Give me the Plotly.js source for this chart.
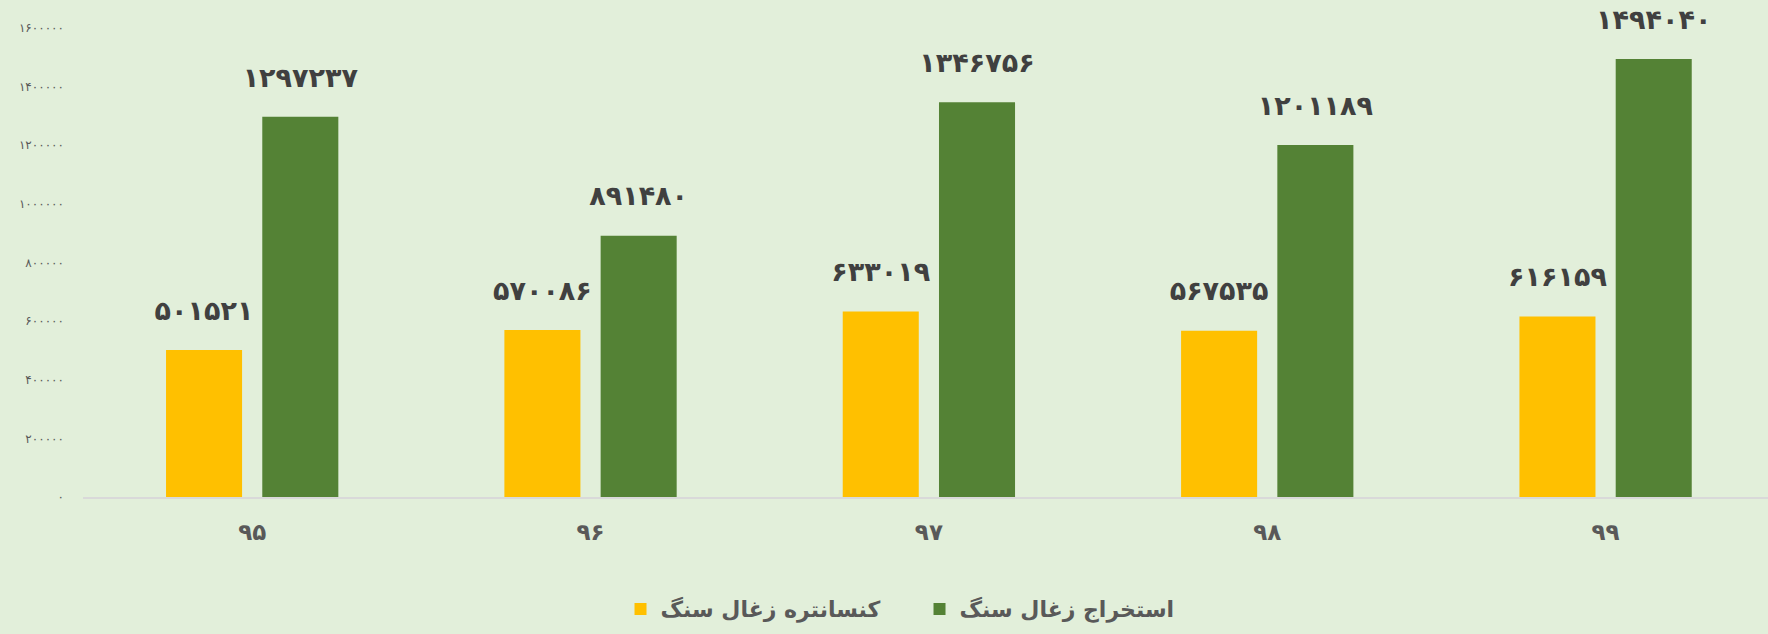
<!DOCTYPE html>
<html>
<head>
<meta charset="utf-8">
<script src="https://cdn.plot.ly/plotly-3.0.1.min.js"></script>
<style>html,body{margin:0;padding:0;background:#e2efda;}</style>
</head>
<body>
<div id="chart" style="width:1768px;height:634px;"></div>
<script>
const years = ['۹۵', '۹۶', '۹۷', '۹۸', '۹۹'];
const concentrate = [501521, 570086, 633019, 567535, 616159];
const extraction = [1297237, 891480, 1346756, 1201189, 1494040];
const seriesNames = ['کنسانتره زغال سنگ', 'استخراج زغال سنگ'];
const yTicks = [0, 200000, 400000, 600000, 800000, 1000000, 1200000, 1400000, 1600000];

const faDigits = '۰۱۲۳۴۵۶۷۸۹';
function toFa(n) { return String(n).replace(/\d/g, d => faDigits[+d]); }

const labelFont = {family: 'DejaVu Sans', size: 27, color: '#404040', weight: 'bold'};
const barColors = ['#ffc000', '#548235'];
const seriesValues = [concentrate, extraction];

const traces = [];
seriesValues.forEach((vals, i) => {
  traces.push({
    type: 'bar', name: seriesNames[i], x: years, y: vals,
    marker: {color: barColors[i]}, hoverinfo: 'none'
  });
});
seriesValues.forEach((vals, i) => {
  traces.push({
    type: 'scatter', mode: 'markers+text', x: years, y: vals,
    text: vals.map(toFa), textposition: 'top center', textfont: labelFont,
    marker: {size: 36, color: 'rgba(0,0,0,0)'},
    showlegend: false, cliponaxis: false, hoverinfo: 'none'
  });
});

const layout = {
  width: 1768, height: 634,
  margin: {l: 83, r: 0, t: 28, b: 137},
  paper_bgcolor: '#e2efda', plot_bgcolor: '#e2efda',
  barmode: 'group', bargap: 0.431, bargroupgap: 0.21,
  scattermode: 'group', scattergap: 0.431,
  showlegend: true,
  xaxis: {
    type: 'category', range: [-0.5, 4.48],
    showline: true, linecolor: '#d9d9d9', linewidth: 2,
    ticks: '', showgrid: false, zeroline: false,
    tickfont: {family: 'DejaVu Sans', size: 23, color: '#595959', weight: 'bold'},
    ticklabelstandoff: 13
  },
  yaxis: {
    range: [0, 1600000], showgrid: false, zeroline: false, showline: false,
    tickvals: yTicks, ticktext: yTicks.map(toFa), ticks: '',
    tickfont: {family: 'DejaVu Sans', size: 12, color: '#595959'},
    ticklabelstandoff: 18
  },
  legend: {
    orientation: 'h', x: 0.319, xanchor: 'left', y: -0.239, yanchor: 'middle',
    entrywidth: 254,
    font: {family: 'DejaVu Sans', size: 22, color: '#595959', weight: 'bold'},
    bgcolor: 'rgba(0,0,0,0)', itemclick: false
  }
};

Plotly.newPlot('chart', traces, layout, {displayModeBar: false, staticPlot: true});
</script>
</body>
</html>
